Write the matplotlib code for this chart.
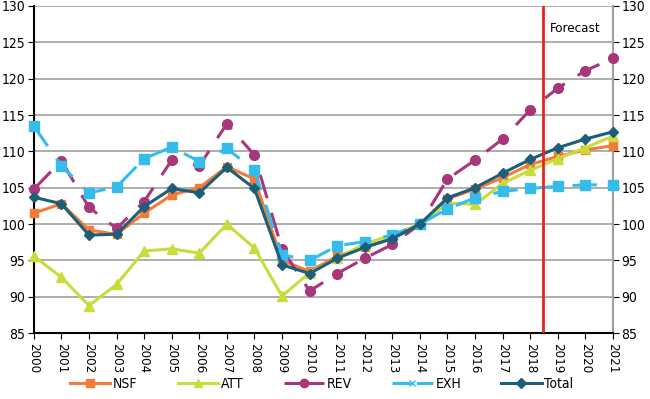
import numpy as np
import matplotlib.pyplot as plt
from matplotlib.lines import Line2D

plt.rcParams['font.family'] = ['DejaVu Sans']
plt.rcParams['font.stretch'] = 'condensed'

years = list(range(2000, 2022))
year_labels = [str(y) for y in years]

nsf = [101.5, 102.8, 99.2, 98.6, 101.5, 104.0, 105.0, 107.9, 106.2, 95.0, 93.5,
       95.6, 96.8, 98.0, 100.0, 103.5, 104.8, 106.4, 108.2, 109.3, 110.2, 110.8]
att = [95.6, 92.7, 88.8, 91.7, 96.3, 96.6, 96.0, 100.0, 96.7, 90.1, 93.3,
       95.3, 97.3, 98.5, 100.0, 102.9, 102.7, 105.6, 107.4, 109.0, 110.5, 112.1]
rev = [104.8, 108.7, 102.3, 99.4, 103.1, 108.8, 108.0, 113.8, 109.5, 96.6, 90.8,
       93.2, 95.3, 97.2, 100.0, 106.2, 108.8, 111.7, 115.7, 118.7, 121.1, 122.8]
exh = [113.5, 108.0, 104.3, 105.1, 109.0, 110.6, 108.6, 110.4, 107.4, 95.8, 95.0,
       97.0, 97.6, 98.5, 100.0, 102.1, 103.6, 104.5, 104.9, 105.2, 105.4, 105.4]
total = [103.7, 102.8, 98.5, 98.6, 102.4, 104.9, 104.3, 107.8, 104.9, 94.4, 93.2,
         95.3, 96.8, 98.0, 100.0, 103.6, 105.0, 107.0, 108.9, 110.5, 111.7, 112.7]

forecast_x = 2018.45

c_nsf = '#F47A3A'
c_att = '#C9DC3A'
c_rev = '#A8367A'
c_exh = '#35BCEB'
c_tot = '#1D5F78'

fig = plt.figure(figsize=(6.5, 3.99), dpi=100)
ax = fig.add_axes([0.052, 0.165, 0.891, 0.82])

ax.plot(years, nsf, color=c_nsf, lw=2.2, marker='s', ms=6, clip_on=False, zorder=3)
ax.plot(years, att, color=c_att, lw=2.2, marker='^', ms=6.5, clip_on=False, zorder=3)
ax.plot(years, rev, color=c_rev, lw=2.2, marker='o', ms=7, dashes=(8, 5), clip_on=False, zorder=3)
ax.plot(years, exh, color=c_exh, lw=2.2, marker='s', ms=6.5, dashes=(8, 5), clip_on=False, zorder=3)
ax.plot(years, total, color=c_tot, lw=2.2, marker='D', ms=5, clip_on=False, zorder=4)

ax.axvline(forecast_x, color='#E8251F', lw=2, zorder=5)
ax.text(forecast_x + 0.25, 126.9, 'Forecast', fontsize=9.5, va='center', ha='left')

ax.set_xlim(2000, 2021)
ax.set_ylim(85, 130)
ax.set_yticks(np.arange(85, 131, 5))
ax.set_xticks(years)
ax.set_xticklabels(year_labels, rotation=-90, fontsize=9.5)
ax.tick_params(axis='y', labelsize=10, labelright=True, right=True, direction='out',
               length=4, pad=2)
ax.tick_params(axis='x', direction='out', length=4, pad=3)
ax.yaxis.grid(True, color='#A0A0A0', lw=1.2)
ax.set_axisbelow(True)

ax.spines['top'].set_visible(False)
ax.spines['right'].set_color('#A0A0A0')
ax.spines['right'].set_linewidth(1.5)
ax.spines['left'].set_linewidth(1.5)
ax.spines['bottom'].set_linewidth(1.5)

handles = [
    Line2D([], [], color=c_nsf, lw=2.2, marker='s', ms=6),
    Line2D([], [], color=c_att, lw=2.2, marker='^', ms=6),
    Line2D([], [], color=c_rev, lw=2.2, marker='o', ms=6, dashes=(6, 2)),
    Line2D([], [], color=c_exh, lw=2.2, marker='x', ms=5, dashes=(6, 2)),
    Line2D([], [], color=c_tot, lw=2.2, marker='D', ms=5),
]
fig.legend(handles, ['NSF', 'ATT', 'REV', 'EXH', 'Total'], loc='center',
           bbox_to_anchor=(0.495, 0.037), ncol=5, frameon=False, fontsize=10,
           handlelength=2.9, handletextpad=0.2, columnspacing=2.9)

fig.savefig('out.png', dpi=100)
